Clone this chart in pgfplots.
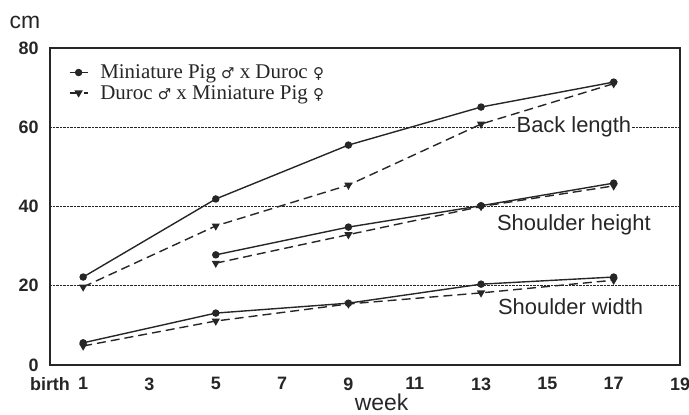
\documentclass[border=0pt]{standalone}
\usepackage{pgfplots}
\pgfplotsset{compat=1.18}
\usepackage{fontspec}
\setmainfont{Liberation Sans}
\newfontfamily\serifleg{Liberation Serif}
\newfontfamily\symf{DejaVu Sans}
\definecolor{ink}{HTML}{262626}
\newcommand{\male}{{\symf\fontsize{15}{17}\selectfont ♂}}
\newcommand{\female}{{\symf\fontsize{15}{17}\selectfont ♀}}
\begin{document}
\begin{tikzpicture}
\useasboundingbox (-50bp,-50bp) rectangle (639bp,365bp);
\begin{axis}[
  scale only axis, clip=false,
  width=630bp, height=317bp,
  xmin=0, xmax=19, ymin=0, ymax=80,
  xtick={0,1,3,5,7,9,11,13,15,17,19},
  xticklabels={birth,1,3,5,7,9,11,13,15,17,19},
  ytick={0,20,40,60,80},
  ymajorgrids, grid style={densely dotted, ink, line width=0.9pt},
  major tick length=0pt,
  axis line style={ink, line width=1.3pt},
  /pgf/number format/assume math mode=true,
  tick label style={font=\fontsize{18}{20}\selectfont\bfseries, text=ink},
  xticklabel style={yshift=-9bp},
  yticklabel style={xshift=-8bp},
  legend style={draw=none, fill=none, at={(rel axis cs:0.025,0.96)}, anchor=north west,
    font=\serifleg\fontsize{21}{23}\selectfont, text=ink, row sep=1bp,
    legend cell align=left},
  legend image code/.code={\draw[mark repeat=2,mark phase=2] plot coordinates {(0bp,0bp)(9bp,0bp)(18bp,0bp)};},
  every axis plot/.append style={ink, line width=1.4pt},
]
% Back length
\addplot[solid, mark=*, mark size=3bp] coordinates {(1,22.2)(5,41.9)(9,55.5)(13,65.1)(17,71.4)};
\addlegendentry{\hspace{10bp}Miniature Pig \male{} x Duroc \female}
\addplot[dashed, dash pattern=on 9bp off 5bp, mark=triangle*, mark options={solid, rotate=180}, mark size=3.4bp] coordinates {(1,19.7)(5,35.1)(9,45.4)(13,60.8)(17,71.0)};
\addlegendentry{\hspace{10bp}Duroc \male{} x Miniature Pig \female}
% Shoulder height
\addplot[solid, mark=*, mark size=3bp, forget plot] coordinates {(5,27.8)(9,34.8)(13,40.2)(17,45.9)};
\addplot[dashed, dash pattern=on 9bp off 5bp, mark=triangle*, mark options={solid, rotate=180}, mark size=3.4bp, forget plot] coordinates {(5,25.7)(9,32.9)(13,40.0)(17,45.2)};
% Shoulder width
\addplot[solid, mark=*, mark size=3bp, forget plot] coordinates {(1,5.6)(5,13.1)(9,15.6)(13,20.4)(17,22.2)};
\addplot[dashed, dash pattern=on 9bp off 5bp, mark=triangle*, mark options={solid, rotate=180}, mark size=3.4bp, forget plot] coordinates {(1,4.8)(5,11.1)(9,15.4)(13,18.2)(17,21.4)};
% labels
\node[fill=white, inner sep=1bp, text=ink, font=\fontsize{22}{24}\selectfont] at (axis cs:15.8,60) {Back length};
\node[text=ink, font=\fontsize{22}{24}\selectfont] at (axis cs:15.8,35.4) {Shoulder height};
\node[text=ink, font=\fontsize{22}{24}\selectfont] at (axis cs:15.7,14.7) {Shoulder width};
\node[text=ink, font=\fontsize{23}{25}\selectfont] at (rel axis cs:0,1) [xshift=-25bp, yshift=26bp] {cm};
\node[text=ink, font=\fontsize{23}{25}\selectfont, inner sep=1bp] at (axis cs:10,0) [yshift=-37bp] {week};
\end{axis}
\end{tikzpicture}
\end{document}
